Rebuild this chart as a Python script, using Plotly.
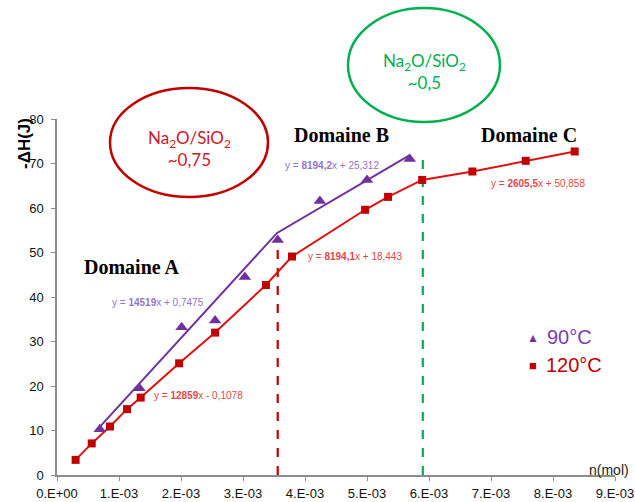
import plotly.graph_objects as go

# ---------------- data ----------------
n_90 = [0.69e-3, 1.33e-3, 2.01e-3, 2.55e-3, 3.03e-3, 3.56e-3, 4.24e-3, 5.00e-3, 5.69e-3]
dH_90 = [10.3, 19.5, 33.2, 34.7, 44.5, 52.8, 61.6, 66.3, 71.0]

n_120 = [0.30e-3, 0.56e-3, 0.855e-3, 1.13e-3, 1.35e-3, 1.97e-3, 2.55e-3, 3.37e-3,
         3.79e-3, 4.97e-3, 5.34e-3, 5.89e-3, 6.70e-3, 7.56e-3, 8.35e-3]
dH_120 = [3.4, 7.1, 10.9, 14.8, 17.4, 25.1, 32.0, 42.7,
          49.1, 59.6, 62.5, 66.3, 68.2, 70.6, 72.7]

# fitted line for 90°C (domain A start, A/B kink, domain B end)
fit90_x = [0.69e-3, 3.55e-3, 5.69e-3]
fit90_y = [10.8, 54.4, 71.9]

# domain boundaries (dashed lines)
boundary_x = [3.56e-3, 5.90e-3]
boundary_top = [51.5, 72.6]

x_tickvals = [0, 1e-3, 2e-3, 3e-3, 4e-3, 5e-3, 6e-3, 7e-3, 8e-3, 9e-3]
x_ticktext = ["0.E+00", "1.E-03", "2.E-03", "3.E-03", "4.E-03",
              "5.E-03", "6.E-03", "7.E-03", "8.E-03", "9.E-03"]
y_tickvals = [0, 10, 20, 30, 40, 50, 60, 70, 80]

eq_texts = ["y = <b>14519</b>x + 0,7475", "y = <b>12859</b>x - 0,1078",
            "y = <b>8194,2</b>x + 25,312", "y = <b>8194,1</b>x + 18,443",
            "y = <b>2605,5</b>x + 50,858"]
domain_labels = ["Domaine A", "Domaine B", "Domaine C"]
ratio_labels = ["Na<sub>2</sub>O/SiO<sub>2</sub><br>~0,75", "Na<sub>2</sub>O/SiO<sub>2</sub><br>~0,5"]
legend_labels = ["90°C", "120°C"]

# ---------------- styling ----------------
W, H = 635, 502
L, R, T, B = 57, 20, 119, 27
PW, PH = W - L - R, H - T - B

def px(X):
    return (X - L) / PW

def py(Y):
    return (H - B - Y) / PH

PURPLE = "#7030A0"
RED = "#C00000"
RED_LINE = "#E01010"
GREEN = "#00B050"

fig = go.Figure()

# dashed boundaries
for bx, top, col in zip(boundary_x, boundary_top, [RED, GREEN]):
    fig.add_trace(go.Scatter(x=[bx, bx], y=[0, top], mode="lines",
                             line=dict(color=col, width=2.2, dash="dash"),
                             showlegend=False, hoverinfo="skip"))

# 120°C
fig.add_trace(go.Scatter(x=n_120, y=dH_120, mode="lines+markers",
                         line=dict(color=RED_LINE, width=2),
                         marker=dict(symbol="square", size=8, color=RED),
                         showlegend=False))
# 90°C fit line + points
fig.add_trace(go.Scatter(x=fit90_x, y=fit90_y, mode="lines",
                         line=dict(color=PURPLE, width=2),
                         showlegend=False, hoverinfo="skip"))
fig.add_trace(go.Scatter(x=n_90, y=dH_90, mode="markers",
                         marker=dict(symbol="triangle-up", size=11, color=PURPLE),
                         showlegend=False))

shapes = [
    dict(type="circle", xref="paper", yref="paper",
         x0=px(110), x1=px(268), y0=py(197), y1=py(88),
         line=dict(color=RED, width=2.5)),
    dict(type="circle", xref="paper", yref="paper",
         x0=px(348), x1=px(500), y0=py(122), y1=py(8),
         line=dict(color=GREEN, width=2.5)),
]

ann = []
def add_text(text, X, Y, size, color, family="Liberation Sans, Arial", **kw):
    ann.append(dict(text=text, x=px(X), y=py(Y), xref="paper", yref="paper",
                    showarrow=False, xanchor="center", yanchor="middle",
                    font=dict(size=size, color=color, family=family), **kw))

# ratio texts in ellipses
add_text(ratio_labels[0], 189, 148, 17, "#C8202A", family="Lato")
add_text(ratio_labels[1], 424, 72, 17, GREEN, family="Lato")

# domain labels
serif = "Liberation Serif, Times New Roman"
add_text("<b>" + domain_labels[0] + "</b>", 132, 267, 20, "black", family=serif)
add_text("<b>" + domain_labels[1] + "</b>", 341, 135, 20, "black", family=serif)
add_text("<b>" + domain_labels[2] + "</b>", 529, 135, 20, "black", family=serif)

# equations
EQP = "#9273CC"
EQR = "#E04848"
add_text(eq_texts[0], 158, 302, 10, EQP)
add_text(eq_texts[1], 198, 395, 10, EQR)
add_text(eq_texts[2], 332, 165, 10, EQP)
add_text(eq_texts[3], 355, 256, 10, EQR)
add_text(eq_texts[4], 538, 183, 10, EQR)

# legend
add_text("▲", 533, 338, 12, PURPLE)
add_text(legend_labels[0], 569, 337, 20, "#7A3CB8")
add_text("■", 533, 365, 13, RED)
add_text(legend_labels[1], 574, 365, 20, RED)

# axis titles
add_text("n(mol)", 609, 470, 14, "#222222")
add_text("<b>-ΔH(J)</b>", 24, 144, 17, "black", textangle=-90)

axis_common = dict(showgrid=False, zeroline=False, showline=True, linecolor="#8C8C8C",
                   linewidth=1.5, ticks="outside", ticklen=4, tickcolor="#8C8C8C",
                   automargin=False,
                   tickfont=dict(family="Liberation Sans, Arial", size=13, color="#111111"))

fig.update_layout(
    width=W, height=H,
    margin=dict(l=L, r=R, t=T, b=B, pad=0),
    paper_bgcolor="white", plot_bgcolor="white",
    shapes=shapes, annotations=ann, showlegend=False,
    xaxis=dict(range=[0, 9e-3], tickvals=x_tickvals, ticktext=x_ticktext,
               ticklabelstandoff=2, **axis_common),
    yaxis=dict(range=[0, 80], tickvals=y_tickvals, ticklabelstandoff=5, **axis_common),
)

fig.write_html("out.html")
